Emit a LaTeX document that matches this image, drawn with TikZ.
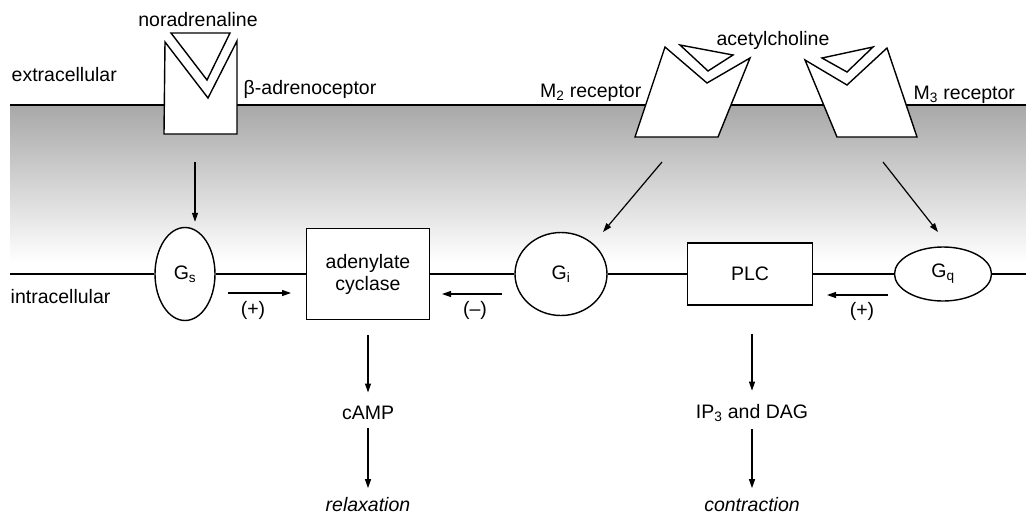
\documentclass[tikz,border=0pt]{standalone}
\usepackage{fontspec}
\setmainfont{Liberation Sans}
\usetikzlibrary{arrows.meta,shapes.geometric}
\begin{document}
\begin{tikzpicture}[x=1pt,y=-1pt,line width=1.4pt,
  txt/.style={font=\fontsize{19.5}{22}\selectfont,inner sep=0pt},
  ell/.style={draw,ellipse,fill=white,inner sep=0pt,font=\fontsize{19.5}{22}\selectfont},
  box/.style={draw,rectangle,fill=white,inner sep=0pt,font=\fontsize{19.5}{22}\selectfont,align=center},
  rec/.style={draw,fill=white,line join=miter},
  arr/.style={-{Triangle[length=9pt,width=6pt]},line width=1.2pt}]
\useasboundingbox (0,0) rectangle (1026,515);
% membrane shading
\shade[top color=black!34,bottom color=white,draw=none] (10,106) rectangle (1026,262);
% membrane line
\coordinate (ml) at (10,105);
\coordinate (mr) at (1026,105);
\draw (ml) -- (mr);
% beta receptor
\draw[rec] (165,42) -- (208,98) -- (237,41) -- (237,134) -- (164,134) -- cycle;
\draw[rec] (171,33) -- (230,33) -- (207,80) -- cycle;
% M2 receptor
\draw[rec] (665,47) -- (707,83) -- (750,58) -- (718,137) -- (635,137) -- cycle;
\draw[rec] (680,45) -- (733,55) -- (708,71) -- cycle;
% M3 receptor
\draw[rec] (805,60) -- (847,85) -- (887,48) -- (917,137) -- (837,137) -- cycle;
\draw[rec] (822,58) -- (873,47) -- (847,72) -- cycle;
% labels top
\node[txt] (nor) at (198,20) {noradrenaline};
\node[txt,anchor=west] (ext) at (11,75) {extracellular};
\node[txt,anchor=west] (beta) at (243,89) {β-adrenoceptor};
\node[txt] (ach) at (773,40) {acetylcholine};
\node[txt,anchor=east] (m2) at (642,93) {M\textsubscript{2} receptor};
\node[txt,anchor=west] (m3) at (913,95) {M\textsubscript{3} receptor};
\node[txt,anchor=west] (intra) at (10,297) {intracellular};
% intracellular row
\node[ell,minimum width=60,minimum height=93] (gs) at (185,274) {G\textsubscript{s}};
\node[box,minimum width=123,minimum height=91] (ac) at (368,274) {adenylate\\cyclase};
\node[ell,minimum width=92,minimum height=83] (gi) at (561,274) {G\textsubscript{i}};
\node[box,minimum width=125,minimum height=62] (plc) at (750,274) {PLC};
\node[ell,minimum width=97,minimum height=54] (gq) at (943,274) {G\textsubscript{q}};
\coordinate (il) at (10,274);
\coordinate (ir) at (1026,274);
\draw (il) -- (gs.west);
\draw (gs.east) -- (ac.west);
\draw (ac.east) -- (gi.west);
\draw (gi.east) -- (plc.west);
\draw (plc.east) -- (gq.west);
\draw (gq.east) -- (ir);
% receptor to G protein arrows
\coordinate (b1) at (195,162);
\draw[arr,shorten >=5pt] (b1) -- (gs.north -| b1);
\coordinate (m2a) at (662,162);
\coordinate (m2b) at (603,232);
\draw[arr] (m2a) -- (m2b);
\coordinate (m3a) at (883,162);
\coordinate (m3b) at (938,232);
\draw[arr] (m3a) -- (m3b);
% effect arrows
\coordinate (p1a) at (228,293);
\coordinate (p1b) at (291,293);
\draw[arr] (p1a) -- (p1b);
\node[txt] (p1) at (253,310) {(+)};
\coordinate (n1a) at (502,294);
\coordinate (n1b) at (442,294);
\draw[arr] (n1a) -- (n1b);
\node[txt] (n1) at (475,310) {(–)};
\coordinate (p2a) at (888,295);
\coordinate (p2b) at (827,295);
\draw[arr] (p2a) -- (p2b);
\node[txt] (p2) at (862,311) {(+)};
% downstream
\node[txt] (camp) at (368,413) {cAMP};
\node[txt,font=\fontsize{19.5}{22}\selectfont\itshape] (relax) at (368,505) {relaxation};
\node[txt] (ip3) at (752,413) {IP\textsubscript{3} and DAG};
\node[txt,font=\fontsize{19.5}{22}\selectfont\itshape] (contr) at (752,505) {contraction};
\draw[arr,shorten <=15pt,shorten >=13pt] (ac.south) -- (camp.north);
\draw[arr,shorten <=7pt,shorten >=9pt] (camp.south) -- (relax.north);
\draw[arr,shorten <=28pt,shorten >=13pt] (plc.south -| ip3) -- (ip3.north);
\draw[arr,shorten <=7pt,shorten >=9pt] (ip3.south) -- (contr.north);
\end{tikzpicture}
\end{document}
